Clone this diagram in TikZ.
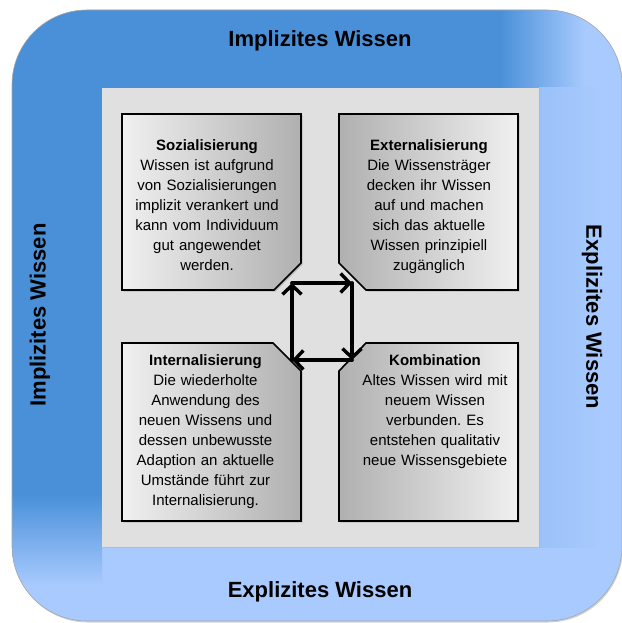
\documentclass[tikz,border=0pt]{standalone}
\usepackage{fontspec}
\setmainfont{Liberation Sans}
\usepackage{tikz}
\usetikzlibrary{arrows.meta,shadows}
\definecolor{donkerblauw}{RGB}{74,144,217}
\definecolor{lichtblauw}{RGB}{168,202,254}
\definecolor{vlak}{RGB}{224,224,224}
\definecolor{kaderlicht}{RGB}{240,240,240}
\definecolor{kaderdonker}{RGB}{176,176,176}
\tikzset{
  % kwadranten (SECI), afgeschuinde hoek naar het midden
  % gebruik: \filldraw[kwadrant,left color=..,right color=..] (p1) -- ... -- cycle;
  kwadrant/.style={draw=black,line width=1.6pt,line join=miter,
    drop shadow={shadow xshift=1.5pt,shadow yshift=-1.5pt,fill=black!40}},
  kwtekst/.style={anchor=north,inner sep=0pt,text width=178pt,align=center,
    font=\fontsize{15}{20}\selectfont},
  % pijlen van de cyclus
  cyclus/.style={line width=3.8pt,line cap=round,line join=round,
    -{Straight Barb[length=9pt,width=19pt,line width=3.4pt]}},
  zijlabel/.style={inner sep=0pt,font=\fontsize{22}{26}\selectfont\bfseries},
}

\begin{document}
\frenchspacing
\begin{tikzpicture}[x=1pt,y=-1pt]
  \useasboundingbox (0,0) rectangle (621,623);
  % buitenste kader
  \fill[lichtblauw,rounded corners=75pt,drop shadow={shadow xshift=1pt,shadow yshift=-1.5pt,fill=black!35}]
    (12,10) rectangle (622,621);
  \begin{scope}
    \clip[rounded corners=75pt] (12,10) rectangle (622,621);
    \fill[donkerblauw] (0,0) -- (500,0) -- (500,88) -- (102,88) -- (102,495) -- (0,495) -- cycle;
    \shade[left color=donkerblauw,right color=lichtblauw] (500,0) rectangle (585,88);
    \shade[top color=donkerblauw,bottom color=lichtblauw] (0,495) rectangle (102,585);
    \shade[left color=lichtblauw!85!donkerblauw,right color=lichtblauw] (539,88) rectangle (600,547);
  \end{scope}
  \draw[black!35,line width=0.6pt,rounded corners=75pt] (12,10) rectangle (622,621);
  \fill[vlak,drop shadow={shadow xshift=1pt,shadow yshift=-1pt,fill=black!30}] (102,88) rectangle (539,547);

  \node[zijlabel] (boven) at (320,41) {Implizites Wissen};
  \node[zijlabel] (onder) at (320,592) {Explizites Wissen};
  \node[zijlabel,rotate=90] (links) at (40,315) {Implizites Wissen};
  \node[zijlabel,rotate=-90] (rechts) at (592,317) {Explizites Wissen};

  % de vier kwadranten
  \filldraw[kwadrant,left color=kaderlicht,right color=kaderdonker]
    (122,114) -- (301,114) -- (301,263) -- (274,290) -- (122,290) -- cycle;
  \filldraw[kwadrant,left color=kaderdonker,right color=kaderlicht]
    (339,114) -- (518,114) -- (518,290) -- (366,290) -- (339,263) -- cycle;
  \filldraw[kwadrant,left color=kaderlicht,right color=kaderdonker]
    (122,343) -- (273,343) -- (301,371) -- (301,521) -- (122,521) -- cycle;
  \filldraw[kwadrant,left color=kaderdonker,right color=kaderlicht]
    (366,343) -- (518,343) -- (518,521) -- (339,521) -- (339,371) -- cycle;

  \node[kwtekst] (soztekst) at (207,139) {\textbf{Sozialisierung}\\Wissen ist aufgrund\\von Sozialisierungen\\implizit verankert und\\kann vom Individuum\\gut angewendet\\werden.};
  \node[kwtekst] (exttekst) at (429,139) {\textbf{Externalisierung}\\Die Wissensträger\\decken ihr Wissen\\auf und machen\\sich das aktuelle\\Wissen prinzipiell\\zugänglich};
  \node[kwtekst] (inttekst) at (205.5,354) {\textbf{Internalisierung}\\Die wiederholte\\Anwendung des\\neuen Wissens und\\dessen unbewusste\\Adaption an aktuelle\\Umstände führt zur\\Internalisierung.};
  \node[kwtekst] (komtekst) at (435,354) {\textbf{Kombination}\\Altes Wissen wird mit\\neuem Wissen\\verbunden. Es\\entstehen qualitativ\\neue Wissensgebiete};

  % hoekpunten van de cyclus
  \coordinate (lb) at (292,283);
  \coordinate (rb) at (352,283);
  \coordinate (ro) at (352,360);
  \coordinate (lo) at (292,360);
  \draw[cyclus] (lb) -- (rb);
  \draw[cyclus] (rb) -- (ro);
  \draw[cyclus] (ro) -- (lo);
  \draw[cyclus] (lo) -- (lb);
\end{tikzpicture}
\end{document}
